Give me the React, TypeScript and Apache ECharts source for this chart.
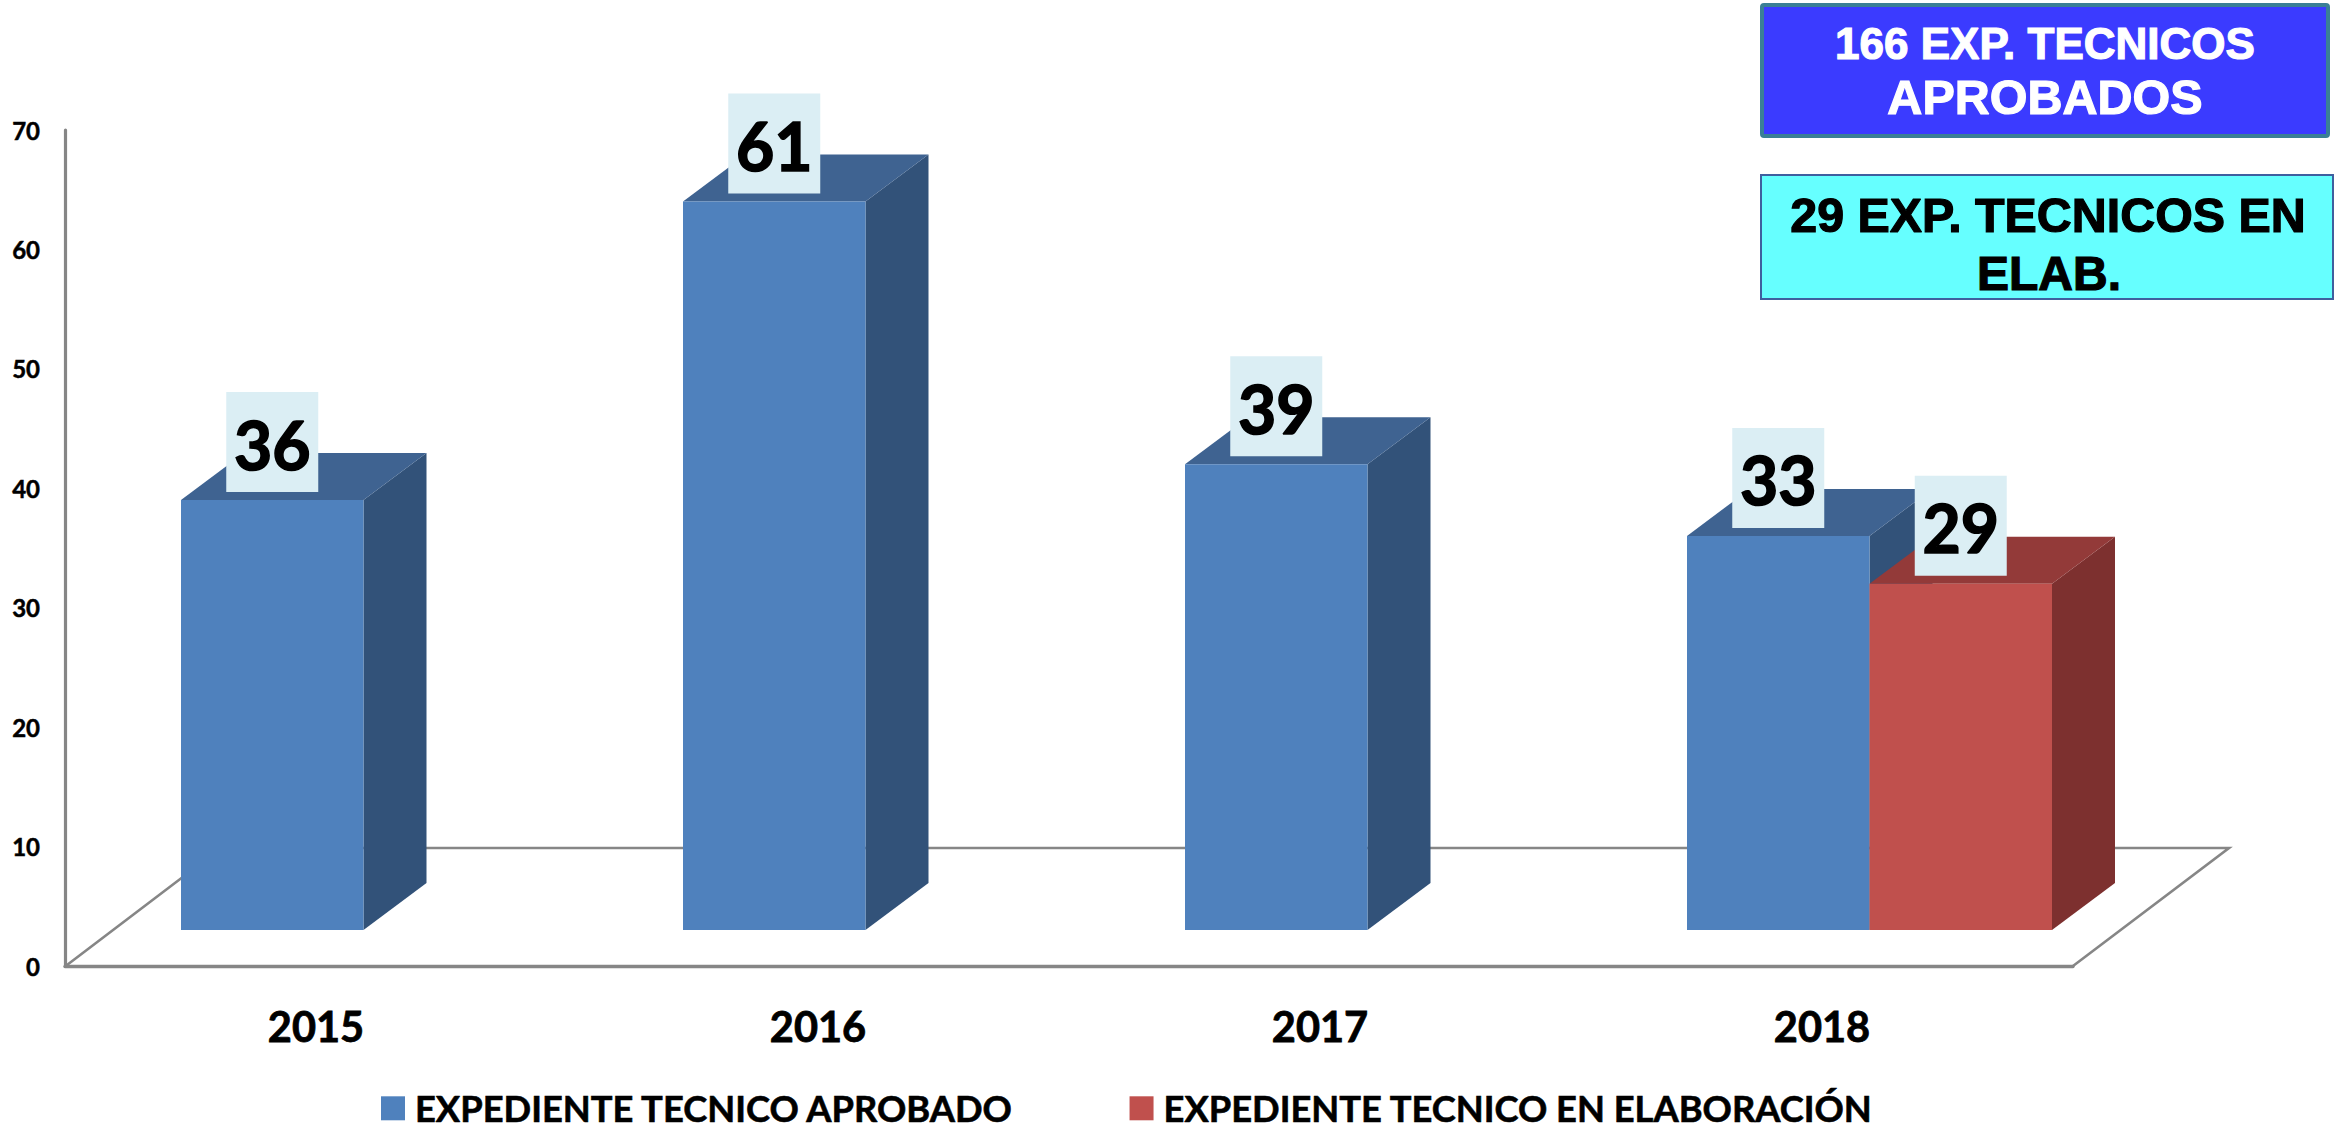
import React, { useEffect, useRef } from "react";
import * as echarts from "echarts";

const categories = ["2015", "2016", "2017", "2018"];
const aprobado = [36, 61, 39, 33];
const elaboracion = [null, null, null, 29];
const seriesNames = ["EXPEDIENTE TECNICO APROBADO", "EXPEDIENTE TECNICO EN ELABORACIÓN"];
const boxOneLines = ["166 EXP. TECNICOS", "APROBADOS"];
const boxTwoLines = ["29 EXP. TECNICOS EN", "ELAB."];

const FONT = "Lato";
const BOX_FONT = "'Liberation Sans'";
const BAR_W = 182.5;
const GROUP_SHIFT = 47.5;
const FRONT_LIFT = 36;
const DEPTH_X = 63;
const DEPTH_Y = 47;

const palette = [
  { front: "#4F81BD", top: "#3F6391", side: "#325279" },
  { front: "#C0504D", top: "#933A39", side: "#7D302F" },
];

function bar3d(seriesIndex: number) {
  const c = palette[seriesIndex];
  return (_: any, api: any) => {
    const val = api.value(1);
    if (val == null || isNaN(val)) return null;
    const center = api.coord([api.value(0), 0])[0] + GROUP_SHIFT;
    const x0 = seriesIndex === 0 ? center - BAR_W : center;
    const x1 = x0 + BAR_W;
    const yBase = api.coord([api.value(0), 0])[1] - FRONT_LIFT;
    const yTop = api.coord([api.value(0), val])[1] - FRONT_LIFT;
    const mid = (x0 + x1) / 2;
    return {
      type: "group",
      children: [
        { type: "polygon", shape: { points: [[x1, yTop], [x1 + DEPTH_X, yTop - DEPTH_Y], [x1 + DEPTH_X, yBase - DEPTH_Y], [x1, yBase]] }, style: { fill: c.side } },
        { type: "polygon", shape: { points: [[x0, yTop], [x0 + DEPTH_X, yTop - DEPTH_Y], [x1 + DEPTH_X, yTop - DEPTH_Y], [x1, yTop]] }, style: { fill: c.top } },
        { type: "rect", shape: { x: x0, y: yTop, width: BAR_W, height: yBase - yTop }, style: { fill: c.front } },
        { type: "rect", shape: { x: mid - 46, y: yTop - 108, width: 92, height: 100 }, style: { fill: "#DBEEF4" } },
        { type: "text", style: { text: String(val), x: mid, y: yTop - 56, align: "center", verticalAlign: "middle", fontFamily: FONT, fontWeight: "bold", fontSize: 66, fill: "#000", stroke: "#000", lineWidth: 1.6 } },
      ],
    };
  };
}

function boxText(text: string, x: number, y: number, size: number, fill: string) {
  return {
    type: "text", z: 21, x, y,
    style: { text, align: "center", verticalAlign: "middle", fontFamily: BOX_FONT, fontWeight: "bold", fontSize: size, fill, stroke: fill, lineWidth: 1.2 },
  };
}

export default function App() {
  const ref = useRef<HTMLDivElement>(null);
  useEffect(() => {
    const chart = echarts.init(ref.current!, null, { renderer: "svg" });
    chart.setOption({
      animation: false,
      backgroundColor: "#fff",
      grid: { left: 65, top: 130, width: 2008, height: 836, containLabel: false },
      xAxis: {
        type: "category",
        data: categories,
        axisTick: { show: false },
        axisLine: { lineStyle: { color: "#868686", width: 3.4 } },
        axisLabel: { margin: 39, fontFamily: FONT, fontWeight: "bold", fontSize: 41.5, color: "#000", textBorderColor: "#000", textBorderWidth: 0.8 },
      },
      yAxis: {
        type: "value",
        min: 0,
        max: 70,
        interval: 10,
        splitLine: { show: false },
        axisTick: { show: false },
        axisLine: { show: true, lineStyle: { color: "#868686", width: 3.2 } },
        axisLabel: { margin: 25, fontFamily: FONT, fontWeight: "bold", fontSize: 24, color: "#000", textBorderColor: "#000", textBorderWidth: 0.5 },
      },
      legend: {
        left: 381,
        top: 1090,
        padding: 0,
        itemWidth: 24,
        itemHeight: 24,
        itemGap: 115,
        icon: "rect",
        data: seriesNames,
        textStyle: { fontFamily: FONT, fontWeight: "bold", fontSize: 36.3, lineHeight: 30, color: "#000", padding: [0, 0, 0, 5], textBorderColor: "#000", textBorderWidth: 0.6 },
      },
      series: [
        { type: "custom", name: seriesNames[0], itemStyle: { color: palette[0].front }, renderItem: bar3d(0), encode: { x: 0, y: 1 }, data: categories.map((_, i) => [i, aprobado[i]]) },
        { type: "custom", name: seriesNames[1], itemStyle: { color: palette[1].front }, renderItem: bar3d(1), encode: { x: 0, y: 1 }, data: categories.map((_, i) => [i, elaboracion[i]]) },
      ],
      graphic: [
        { type: "polyline", z: -1, shape: { points: [[67, 965], [221, 848], [2229, 848], [2073, 966]] }, style: { stroke: "#868686", lineWidth: 2.6, fill: "none" } },
        { type: "rect", z: 20, shape: { x: 1762, y: 5, width: 566, height: 131, r: 2 }, style: { fill: "#3B3BFF", stroke: "#3A7F96", lineWidth: 4 } },
        boxText(boxOneLines[0], 2045, 43, 44, "#fff"),
        boxText(boxOneLines[1], 2045, 97, 48.5, "#fff"),
        { type: "rect", z: 20, shape: { x: 1761, y: 175, width: 572, height: 124 }, style: { fill: "#66FFFF", stroke: "#3F5F9F", lineWidth: 2 } },
        boxText(boxTwoLines[0], 2048, 215, 48.4, "#000"),
        boxText(boxTwoLines[1], 2049, 273, 48, "#000"),
      ],
    });
    return () => chart.dispose();
  }, []);
  return <div ref={ref} style={{ position: "fixed", left: 0, top: 0, width: 2343, height: 1127 }} />;
}
